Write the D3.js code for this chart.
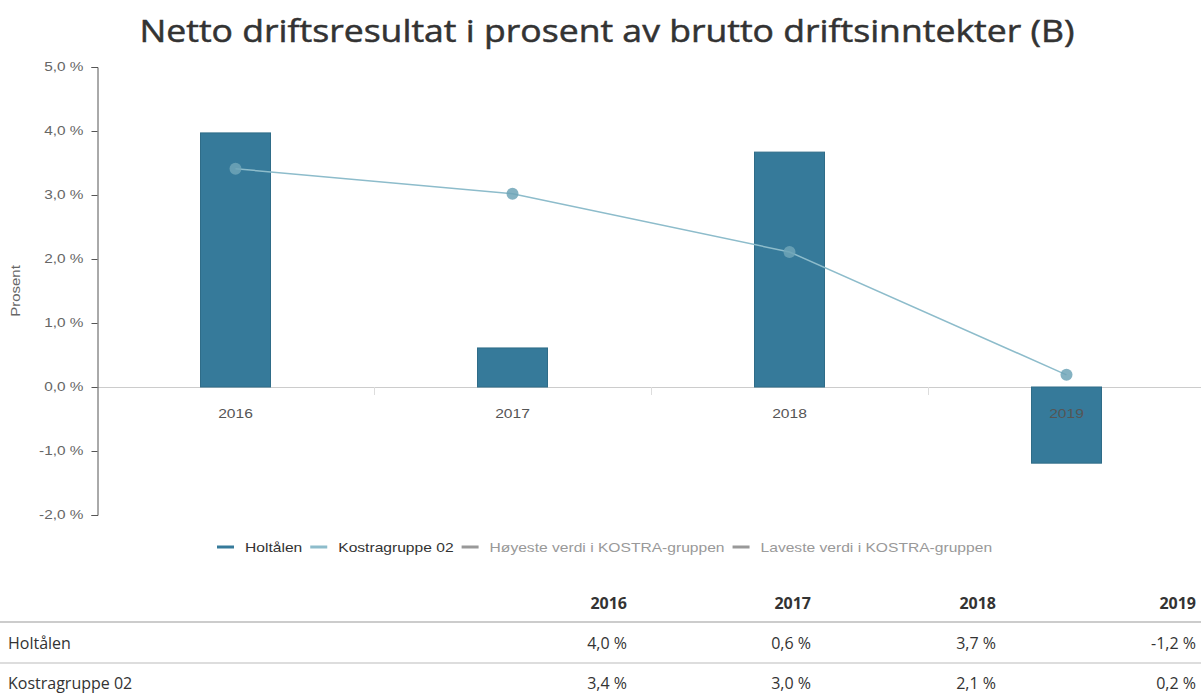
<!DOCTYPE html>
<html>
<head>
<meta charset="utf-8">
<script src="https://cdn.jsdelivr.net/npm/d3@7"></script>
<style>
  body { margin: 0; background: #fff; }
  svg { display: block; }
</style>
</head>
<body>
<div id="chart"></div>
<script>
var years = ["2016", "2017", "2018", "2019"];
var holtalen = [3.97, 0.61, 3.67, -1.19];
var kostra = [3.41, 3.02, 2.11, 0.19];
var yTicks = [-2, -1, 0, 1, 2, 3, 4, 5];
var legendItems = ["Holtålen", "Kostragruppe 02", "Høyeste verdi i KOSTRA-gruppen", "Laveste verdi i KOSTRA-gruppen"];

var W = 1201, H = 693;
var barColor = "#367a9a", lineColor = "#8dbccb", dotColor = "#6ea5b7";
var af = "'Liberation Sans', Arial, sans-serif";

// chart text in the original is a bit wider than the font, so stretch it
function stretch(sel, f) {
    sel.each(function() {
        var w = this.getComputedTextLength();
        d3.select(this).attr("textLength", w * f).attr("lengthAdjust", "spacingAndGlyphs");
    });
}

var svg = d3.select("#chart").append("svg")
    .attr("width", W).attr("height", H);

// title
var title = svg.append("text")
    .attr("x", 607).attr("y", 42)
    .attr("text-anchor", "middle")
    .style("font-family", "'Open Sans', sans-serif")
    .style("font-size", "31px")
    .style("fill", "#333")
    .style("stroke", "#333").style("stroke-width", 0.5)
    .text("Netto driftsresultat i prosent av brutto driftsinntekter (B)");
title.attr("textLength", 935).attr("lengthAdjust", "spacingAndGlyphs");

var x = d3.scaleBand().domain(years).range([97, 1205]);
var y = d3.scaleLinear().domain([-2, 5]).range([515, 67]);

// zero line
svg.append("line")
    .attr("x1", 97).attr("x2", 1201)
    .attr("y1", y(0) + 0.5).attr("y2", y(0) + 0.5)
    .style("stroke", "#ccc").style("stroke-width", 1);

// category ticks
svg.selectAll(".ctick").data(years.slice(1)).enter().append("line")
    .attr("x1", function(d) { return Math.round(x(d)) + 0.5; })
    .attr("x2", function(d) { return Math.round(x(d)) + 0.5; })
    .attr("y1", y(0)).attr("y2", y(0) + 8)
    .style("stroke", "#ddd");

// y axis
var yAxis = d3.axisLeft(y).tickValues(yTicks).tickSize(6)
    .tickFormat(function(d) { return d.toFixed(1).replace(".", ",") + " %"; });
var ga = svg.append("g").attr("transform", "translate(97.5,0)").call(yAxis);
ga.select(".domain").style("stroke", "#555").attr("d", "M-6," + (y(5)+0.5) + "H0.5V" + (y(-2)+0.5) + "H-6");
ga.selectAll(".tick line").style("stroke", "#555");
ga.selectAll(".tick text")
    .attr("x", -14)
    .style("font-family", af)
    .style("font-size", "12px")
    .style("fill", "#666")
    .call(stretch, 1.28);

var ylab = svg.append("text")
    .attr("transform", "translate(20,291) rotate(-90)")
    .attr("text-anchor", "middle")
    .style("font-family", af)
    .style("font-size", "12px")
    .style("fill", "#666")
    .text("Prosent");
stretch(ylab, 1.25);

// bars
var bw = 70;
svg.selectAll(".bar").data(holtalen).enter().append("rect")
    .attr("x", function(d, i) { return x(years[i]) + x.bandwidth() / 2 - bw / 2; })
    .attr("y", function(d) { return y(Math.max(0, d)); })
    .attr("width", bw)
    .attr("height", function(d) { return Math.abs(y(d) - y(0)); })
    .style("fill", barColor)
    .style("stroke", "#2f6c88").style("stroke-width", 1);

// year labels
svg.selectAll(".ylab").data(years).enter().append("text")
    .attr("x", function(d) { return x(d) + x.bandwidth() / 2; })
    .attr("y", 418)
    .attr("text-anchor", "middle")
    .style("font-family", af)
    .style("font-size", "12px")
    .style("fill", "#555")
    .text(function(d) { return d; })
    .call(stretch, 1.3);

// line
var line = d3.line()
    .x(function(d, i) { return x(years[i]) + x.bandwidth() / 2; })
    .y(function(d) { return y(d); });
svg.append("path").datum(kostra)
    .attr("d", line)
    .style("fill", "none")
    .style("stroke", lineColor)
    .style("stroke-width", 1.5);
svg.selectAll(".dot").data(kostra).enter().append("circle")
    .attr("cx", function(d, i) { return x(years[i]) + x.bandwidth() / 2; })
    .attr("cy", function(d) { return y(d); })
    .attr("r", 6)
    .style("fill", dotColor)
    .style("fill-opacity", 0.85);

// legend
var legColors = [barColor, lineColor, "#999", "#999"];
var legText = ["#333", "#333", "#999", "#999"];
var lg = svg.append("g");
var lx = 217;
legendItems.forEach(function(t, i) {
    lg.append("line")
        .attr("x1", lx).attr("x2", lx + 17)
        .attr("y1", 547).attr("y2", 547)
        .style("stroke", legColors[i]).style("stroke-width", 3);
    var tx = lg.append("text")
        .attr("x", lx + 28).attr("y", 552)
        .style("font-family", af)
        .style("font-size", "13px")
        .style("fill", legText[i])
        .text(t);
    var w = tx.node().getComputedTextLength() * 1.2;
    tx.attr("textLength", w).attr("lengthAdjust", "spacingAndGlyphs");
    lx += 28 + w + 8;
});

// table
var colRight = [627, 811, 996, 1196];
var fmt = function(v) { return v.toFixed(1).replace(".", ",") + " %"; };
var tf = "'Open Sans', sans-serif";
svg.selectAll(".th").data(years).enter().append("text")
    .attr("x", function(d, i) { return colRight[i]; })
    .attr("y", 609)
    .attr("text-anchor", "end")
    .style("font-family", tf).style("font-size", "16px").style("font-weight", "bold")
    .style("fill", "#333")
    .text(function(d) { return d; });
svg.append("line").attr("x1", 0).attr("x2", W).attr("y1", 622).attr("y2", 622)
    .style("stroke", "#ccc").style("stroke-width", 2);
svg.append("line").attr("x1", 0).attr("x2", W).attr("y1", 663).attr("y2", 663)
    .style("stroke", "#ddd").style("stroke-width", 2);

var rows = [{ name: "Holtålen", vals: holtalen, y: 649 }, { name: "Kostragruppe 02", vals: kostra, y: 689 }];
rows.forEach(function(r) {
    svg.append("text").attr("x", 8).attr("y", r.y)
        .style("font-family", tf).style("font-size", "16px").style("fill", "#333")
        .text(r.name);
    svg.selectAll(null).data(r.vals).enter().append("text")
        .attr("x", function(d, i) { return colRight[i]; })
        .attr("y", r.y)
        .attr("text-anchor", "end")
        .style("font-family", tf).style("font-size", "16px").style("fill", "#333")
        .text(function(d) { return fmt(d); });
});
</script>
</body>
</html>
